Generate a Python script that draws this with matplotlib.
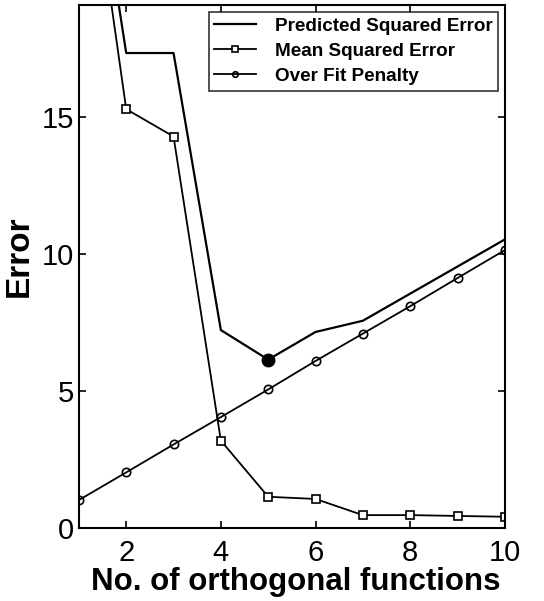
import numpy as np
import matplotlib.pyplot as plt

plt.rcParams['font.family'] = ['Liberation Sans', 'DejaVu Sans']

# numero de funciones ortogonales
n_funciones = [1, 2, 3, 4, 5, 6, 7, 8, 9, 10]
pse = [28.5, 17.35, 17.35, 7.23, 6.15, 7.16, 7.57, 8.56, 9.55, 10.54]
mse = [27.5, 15.3, 14.3, 3.19, 1.14, 1.06, 0.47, 0.47, 0.44, 0.41]
penalty = [1.02, 2.03, 3.05, 4.05, 5.06, 6.1, 7.1, 8.1, 9.13, 10.15]
minimo = 5

fig = plt.figure(figsize=(5.44, 6.01), dpi=100)
ax = fig.add_axes([0.145, 0.1215, 0.783, 0.870])

ax.plot(n_funciones, pse, 'k-', lw=1.6, label='Predicted Squared Error')
ax.plot(n_funciones, mse, 'k-', lw=1.3, marker='s', ms=6, mfc='white',
        mew=1.2, label='Mean Squared Error')
ax.plot(n_funciones, penalty, 'k-', lw=1.3, marker='o', ms=6, mfc='none',
        mew=1.2, label='Over Fit Penalty')
ax.plot(minimo, pse[n_funciones.index(minimo)], 'ko', ms=9)

ax.set_xlim(1, 10)
ax.set_ylim(0, 19.1)
ax.set_xticks([2, 4, 6, 8, 10])
ax.set_yticks([0, 5, 10, 15])
ax.tick_params(direction='in', top=True, right=True, labelsize=21,
               length=5, width=1.2)
ax.tick_params(axis='x', pad=8)
for s in ax.spines.values():
    s.set_linewidth(1.5)

ax.set_xlabel('No. of orthogonal functions', fontsize=22.5, fontweight='bold',
              labelpad=0)
ax.xaxis.set_label_coords(0.508, -0.075)
ax.set_ylabel('Error', fontsize=24, fontweight='bold')
ax.yaxis.set_label_coords(-0.103, 0.52)

leg = ax.legend(loc='upper right', fontsize=13.6, frameon=True, fancybox=False,
                edgecolor='black', handlelength=2.2, handletextpad=1.0,
                borderpad=0.3, labelspacing=0.42, borderaxespad=0.35)
for t in leg.get_texts():
    t.set_fontweight('bold')
for h in leg.legend_handles:
    h.set_markersize(4)
leg.get_frame().set_linewidth(1.2)

plt.savefig('out.png', dpi=100)
